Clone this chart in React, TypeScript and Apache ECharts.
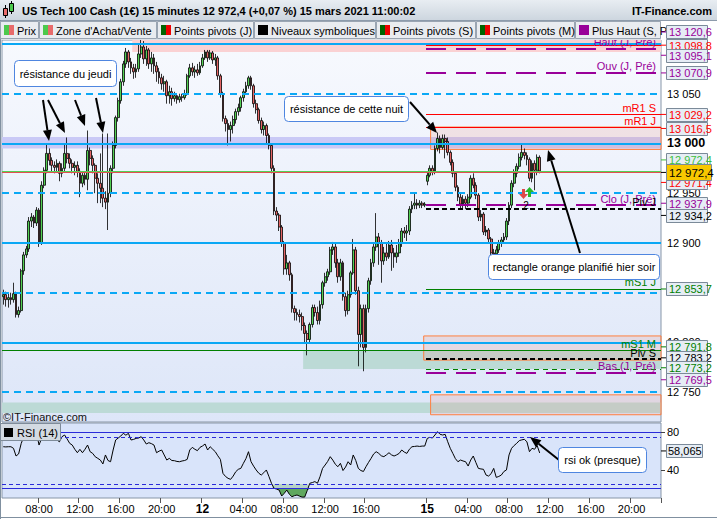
import React, { useEffect, useRef } from 'react';
import * as echarts from 'echarts';

const FONT = 'Liberation Sans, Arial, Helvetica, sans-serif';

// ---------- time axis ----------
const sessions = [
  { day: '11', from: '04:30', to: '24:00' },
  { day: '12', from: '00:00', to: '22:00' },
  { day: '15', from: '00:00', to: '23:00' },
];
const toMin = (t: string) => { const [h, m] = t.split(':').map(Number); return h * 60 + m; };
const categories: string[] = [];
sessions.forEach((s) => {
  for (let m = toMin(s.from); m < toMin(s.to); m += 15) {
    categories.push(`${s.day} ${String(Math.floor(m / 60)).padStart(2, '0')}:${String(m % 60).padStart(2, '0')}`);
  }
});

const xTickKeys = ['11 08:00', '11 12:00', '11 16:00', '11 20:00', '12 00:00', '12 04:00', '12 08:00', '12 12:00', '12 16:00', '15 00:00', '15 04:00', '15 08:00', '15 12:00', '15 16:00', '15 20:00'];
const xTickLabels = ['08:00', '12:00', '16:00', '20:00', '12', '04:00', '08:00', '12:00', '16:00', '15', '04:00', '08:00', '12:00', '16:00', '20:00'];
const xTickBold = ['12', '15'];

// ---------- price (open, close, low, high), 15 min ----------
const ohlc: number[][] = [
  [12846, 12848, 12838, 12853], [12848, 12843, 12836, 12851], [12843, 12845, 12835, 12849], [12845, 12843, 12838, 12850],
  [12843, 12849, 12840, 12860], [12849, 12828, 12825, 12851], [12828, 12832, 12825, 12836], [12832, 12872, 12830, 12874],
  [12872, 12888, 12868, 12891], [12888, 12894, 12885, 12897], [12894, 12922, 12891, 12926], [12922, 12926, 12916, 12930],
  [12926, 12920, 12915, 12928], [12920, 12933, 12917, 12936], [12933, 12900, 12896, 12935], [12900, 12958, 12898, 12962],
  [12958, 12973, 12955, 12976], [12973, 12990, 12970, 13000], [12990, 12983, 12978, 12995], [12983, 12978, 12972, 12986],
  [12978, 12976, 12970, 12982], [12976, 12980, 12972, 12984], [12980, 12970, 12962, 12982], [12970, 12975, 12966, 12980],
  [12975, 12990, 12972, 13000], [12990, 12985, 12980, 13006], [12985, 12980, 12975, 12990], [12980, 12976, 12970, 12984],
  [12976, 12978, 12968, 12982], [12978, 12972, 12966, 12982], [12972, 12960, 12946, 12975], [12960, 12968, 12956, 12972],
  [12968, 12964, 12958, 12972], [12964, 12993, 12953, 13013], [12993, 12985, 12978, 12996], [12985, 12978, 12970, 12988],
  [12978, 12965, 12950, 12980], [12965, 12960, 12940, 12970], [12960, 12955, 12940, 12990], [12955, 12945, 12936, 13010],
  [12945, 12941, 12934, 12952], [12941, 12950, 12913, 13010], [12950, 12975, 12946, 12978], [12975, 12998, 12970, 13002],
  [12998, 13026, 12995, 13028], [13026, 13043, 13022, 13046], [13043, 13062, 13040, 13065], [13062, 13080, 13058, 13083],
  [13080, 13092, 13076, 13096], [13092, 13082, 13076, 13094], [13082, 13076, 13070, 13086], [13076, 13072, 13065, 13080],
  [13072, 13075, 13066, 13080], [13075, 13090, 13072, 13100], [13090, 13097, 13086, 13106], [13097, 13085, 13080, 13103],
  [13085, 13094, 13078, 13098], [13094, 13080, 13075, 13096], [13080, 13086, 13072, 13092], [13086, 13078, 13070, 13090],
  [13078, 13072, 13062, 13082], [13072, 13066, 13060, 13076], [13066, 13060, 13054, 13070], [13060, 13062, 13052, 13068],
  [13062, 13048, 13040, 13064], [13048, 13052, 13040, 13058], [13052, 13045, 13038, 13056], [13045, 13048, 13042, 13052],
  [13048, 13044, 13040, 13050], [13044, 13047, 13041, 13050], [13047, 13046, 13042, 13050], [13046, 13050, 13044, 13054],
  [13050, 13068, 13048, 13070], [13068, 13076, 13066, 13080], [13076, 13072, 13068, 13081], [13072, 13074, 13066, 13078],
  [13074, 13071, 13068, 13080], [13071, 13078, 13069, 13082], [13078, 13086, 13076, 13090], [13086, 13092, 13084, 13094],
  [13092, 13086, 13082, 13094], [13086, 13091, 13084, 13094], [13091, 13084, 13080, 13093], [13084, 13086, 13078, 13090],
  [13086, 13068, 13064, 13088], [13068, 13050, 13046, 13070], [13050, 13025, 13022, 13052], [13025, 13020, 13012, 13028],
  [13020, 13014, 12998, 13024], [13014, 13018, 13002, 13022], [13018, 13024, 13010, 13028], [13024, 13032, 13020, 13035],
  [13032, 13036, 13028, 13040], [13036, 13046, 13032, 13048], [13046, 13052, 13042, 13055], [13052, 13058, 13049, 13062],
  [13058, 13066, 13055, 13068], [13066, 13058, 13054, 13068], [13058, 13040, 13036, 13060], [13040, 13034, 13030, 13044],
  [13034, 13023, 13020, 13036], [13023, 13014, 13010, 13026], [13014, 13018, 13008, 13022], [13018, 13008, 13000, 13020],
  [13008, 12998, 12994, 13010], [12998, 12975, 12970, 13000], [12975, 12932, 12928, 12978], [12932, 12928, 12922, 12936],
  [12928, 12916, 12912, 12930], [12916, 12900, 12896, 12918], [12900, 12874, 12868, 12902], [12874, 12880, 12868, 12888],
  [12880, 12868, 12862, 12882], [12868, 12834, 12830, 12870], [12834, 12830, 12822, 12837], [12830, 12828, 12822, 12834],
  [12828, 12826, 12820, 12833], [12826, 12817, 12812, 12830], [12817, 12809, 12800, 12820], [12809, 12803, 12787, 12812],
  [12803, 12818, 12800, 12820], [12818, 12835, 12815, 12838], [12835, 12830, 12826, 12838], [12830, 12822, 12818, 12836],
  [12822, 12838, 12818, 12842], [12838, 12860, 12834, 12862], [12860, 12866, 12856, 12870], [12866, 12871, 12862, 12874],
  [12871, 12893, 12868, 12896], [12893, 12896, 12888, 12901], [12896, 12880, 12875, 12900], [12880, 12866, 12860, 12884],
  [12866, 12880, 12862, 12884], [12880, 12846, 12842, 12882], [12846, 12832, 12826, 12850], [12832, 12848, 12828, 12852],
  [12848, 12870, 12845, 12872], [12870, 12893, 12868, 12904], [12893, 12852, 12848, 12896], [12852, 12808, 12776, 12856],
  [12808, 12834, 12795, 12838], [12834, 12795, 12771, 12838], [12795, 12834, 12790, 12838], [12834, 12862, 12830, 12865],
  [12862, 12880, 12858, 12884], [12880, 12896, 12876, 12900], [12896, 12906, 12892, 12930], [12906, 12900, 12878, 12910],
  [12900, 12882, 12860, 12903], [12882, 12890, 12878, 12896], [12890, 12886, 12882, 12900], [12886, 12898, 12884, 12902],
  [12898, 12890, 12872, 12903], [12890, 12886, 12875, 12895], [12886, 12890, 12880, 12898], [12890, 12900, 12886, 12904],
  [12900, 12912, 12896, 12915], [12912, 12910, 12905, 12916], [12910, 12912, 12902, 12918], [12912, 12934, 12908, 12937],
  [12934, 12938, 12930, 12942], [12938, 12940, 12934, 12950], [12940, 12938, 12934, 12944], [12938, 12940, 12935, 12943],
  [12940, 12938, 12935, 12942], [12938, 12939, 12936, 12941],
  [12962, 12968, 12958, 12972], [12968, 12975, 12966, 12978], [12975, 12971, 12968, 12978], [12971, 12995, 12969, 12998],
  [12995, 13005, 12992, 13011], [13005, 12996, 12990, 13008], [12996, 13005, 12994, 13009], [13005, 13002, 12985, 13009],
  [13002, 12991, 12988, 13006], [12991, 12981, 12978, 12993], [12981, 12970, 12966, 12984], [12970, 12956, 12952, 12972],
  [12956, 12946, 12942, 12958], [12946, 12939, 12935, 12950], [12939, 12944, 12934, 12948], [12944, 12940, 12934, 12947],
  [12940, 12946, 12936, 12949], [12946, 12965, 12944, 12968], [12965, 12958, 12955, 12970], [12958, 12948, 12944, 12961],
  [12948, 12926, 12922, 12950], [12926, 12929, 12922, 12933], [12929, 12911, 12908, 12931], [12911, 12913, 12907, 12917],
  [12913, 12904, 12900, 12915], [12904, 12890, 12886, 12906], [12890, 12889, 12878, 12894], [12889, 12893, 12882, 12897],
  [12893, 12900, 12890, 12903], [12900, 12903, 12896, 12906], [12903, 12906, 12900, 12910], [12906, 12922, 12903, 12925],
  [12922, 12938, 12918, 12941], [12938, 12960, 12935, 12963], [12960, 12970, 12956, 12974], [12970, 12977, 12966, 12980],
  [12977, 12986, 12974, 12990], [12986, 12991, 12983, 13000], [12991, 12988, 12984, 12995], [12988, 12984, 12978, 12991],
  [12984, 12965, 12962, 12986], [12965, 12980, 12961, 12983], [12980, 12973, 12953, 12983], [12973, 12986, 12968, 12989],
  [12986, 12972.4, 12970, 12988],
];

// ---------- RSI (14) ----------
const rsi: number[] = [
  64.7, 64.5, 64.7, 64.7, 63, 54.8, 57, 68, 75.4, 79, 80.8, 80.5, 79, 79.5, 66.5, 73.6, 79, 80.8, 79, 76,
  74, 71.9, 70, 75.4, 77.2, 73, 68.3, 66.5, 62, 58.3, 61.9, 58.3, 62, 66.5, 59.4, 57.6, 54, 52.3, 50.5, 46.3,
  55.9, 50, 48.7, 61.2, 71.9, 74, 76.1, 79, 77, 79, 71.9, 72.5, 73.6, 74, 75.4, 71.9, 67.6, 69, 68, 66.5,
  58.3, 60, 61.2, 55.9, 50.5, 52.3, 50, 49.8, 49, 48.7, 49.5, 50, 51.2, 61.2, 64, 62, 60.5, 64, 65.5, 67.6,
  61.2, 64.7, 62, 59.4, 55, 51.2, 36.3, 33, 31, 29.9, 33.4, 38, 40.6, 41.6, 47, 52, 59.4, 48.7, 44, 39.9,
  36.5, 34.5, 37, 39.9, 33, 25.7, 20.4, 19.5, 18.5, 12.1, 15, 18.5, 14, 11.4, 12.5, 13.2, 12, 11, 11, 18,
  25.7, 26.5, 27.5, 25.7, 32.7, 41.6, 45.2, 49, 54.1, 50.5, 46, 43.4, 47, 39.3, 43, 48.7, 45.2, 55.9, 50, 41.6,
  39.3, 38.3, 43.4, 48, 52.3, 57, 59.4, 57.6, 55, 54.1, 56, 58.3, 56, 54.8, 56, 57.6, 61.2, 59, 57.6, 62,
  64.7, 65, 65.4, 65, 65.4, 65.4, 73.6, 74.7, 74, 77.2, 80.8, 78, 77.2, 77.9, 70, 63, 57.6, 52, 48.7, 50.5,
  49.5, 48.7, 44.1, 50.5, 54.8, 48, 41.6, 41, 40.6, 34.5, 33.4, 36, 41.6, 32, 33, 34.5, 38.3, 39.9, 55.9, 63,
  66, 68.3, 71.2, 72, 72.6, 70, 59.4, 63, 62, 66, 58.065,
];
const rsiLevels = [80, 75, 25, 20];
const rsiTickLabels = [40, 80];

// ---------- levels ----------
const roundSolid = [13100, 13000, 12900, 12800];
const roundDashed = [13050, 12950, 12850, 12750];
const yTickValues = [12750, 12800, 12850, 12900, 12950, 13000, 13050, 13100];
const yLabelValues = [12750, 12800, 12900, 12950, 13000, 13050];
const fullLevels = [12972.4, 12971.4, 12791.8];
const fullLevelNames = ['', '', 'mS1 M'];
const pivotStart = 166; // Monday 00:00
const pivotLevels = [13098.8, 13095.1, 13070.9, 13029.2, 13016.5, 12937.9, 12934.2, 12853.7, 12783.2, 12773.2, 12769.5];
const pivotNames = ['', 'Haut (J, Pré)', 'Ouv (J, Pré)', 'mR1 S', 'mR1 J', 'Clo (J, Pré)', 'Piv J', 'mS1 J', 'Piv S', '', 'Bas (J, Pré)'];

// zones [from, to, low, high]
const bandZones = [[51, 258, 13092, 13104], [0, 258, 12995, 13006.5], [117.9, 258, 12773.2, 12791.8], [0, 258, 12729, 12739.6]];
const plannedRects = [[167.8, 258, 12994, 13016.5], [165.1, 258, 12782.2, 12806.5], [167.8, 258, 12727.3, 12747.3]];

const lastPrice = 12972.4;
const lastRsi = 58.065;
const axisBoxValues = [13120.6, 13098.8, 13095.1, 13070.9, 13029.2, 13016.5, 12972.4, 12971.4, 12937.9, 12934.2, 12853.7, 12791.8, 12783.2, 12773.2, 12769.5];

const title = 'US Tech 100 Cash (1€) 15 minutes 12 972,4 (+0,07 %) 15 mars 2021 11:00:02';
const legendLabels = ['Prix', "Zone d'Achat/Vente", 'Points pivots (J)', 'Niveaux symboliques', 'Points pivots (S)', 'Points pivots (M)', 'Plus Haut (S, P'];
const notes = ['résistance du jeudi', 'résistance de cette nuit', 'rectangle orange planifié hier soir', 'rsi ok (presque)'];

// ---------- styles ----------
const PURPLE = '#990099';
const RED = '#ff0000';
const GREEN = '#008000';
const LGREEN = '#3cc03c';
const BLUE = '#0aa8f5';
const levelStyle: Record<string, any> = {
  'Haut (J, Pré)': { c: PURPLE, w: 2, t: [20, 10] }, 'Ouv (J, Pré)': { c: PURPLE, w: 2, t: [20, 10] },
  'Clo (J, Pré)': { c: PURPLE, w: 2, t: [20, 10] }, 'Bas (J, Pré)': { c: PURPLE, w: 2, t: [20, 10] },
  'mR1 S': { c: RED, w: 1, t: 'solid' }, 'mR1 J': { c: RED, w: 1, t: 'solid' },
  'Piv J': { c: '#000', w: 2, t: [5, 3] }, 'Piv S': { c: '#000', w: 2, t: [5, 3] },
  'mS1 J': { c: GREEN, w: 1, t: 'solid' }, 'mS1 M': { c: GREEN, w: 1, t: 'solid' },
};
const unnamedStyles = [{ c: RED, w: 1, t: 'solid' }, { c: GREEN, w: 1, t: [5, 4] }];
const boxColors = [PURPLE, RED, PURPLE, PURPLE, RED, RED, LGREEN, RED, PURPLE, '#000', GREEN, GREEN, '#000', GREEN, PURPLE];
const boxShift = [8.5, 0, 6.4, 0, 0, 1.4, -11, 10.5, -2, 6.5, 0, -3.7, -1.3, -1.3, 7];
const legendEdges = [0, 39, 157, 254, 376, 476, 575, 661];
const legendIcons = [['#4cc94c', '#e86b6b'], ['#4cc94c', '#e86b6b'], ['#006400', '#ee0000'], ['#000000'], ['#006400', '#ee0000'], ['#006400', '#ee0000'], ['#990099']];
const noteBoxes = [[14, 60, 102, 26], [284, 96, 124, 25], [488, 254, 171, 25], [558, 447, 88, 25]];
const arrows = [[43, 100, 49, 141], [48, 100, 65, 133], [75, 100, 85, 126], [96, 98, 103, 133], [410, 102, 437, 133], [580, 253, 548, 150], [559, 460, 530, 437]];

function fmtNum(v: number, dec: number) {
  const [i, d] = v.toFixed(dec).split('.');
  const ii = i.replace(/\B(?=(\d{3})+(?!\d))/g, ' ');
  return d ? `${ii},${d}` : ii;
}

function buildOption() {
  const tickSet = new Set(xTickKeys);
  const tickFn = (_i: number, v: string) => tickSet.has(v);
  const labelFn = (v: string) => {
    const k = xTickKeys.indexOf(v);
    if (k < 0) return '';
    const t = xTickLabels[k];
    return xTickBold.includes(t) ? `{b|${t}}` : t;
  };

  const lineItems: any[] = [];
  roundSolid.forEach((v) => lineItems.push({ yAxis: v, lineStyle: { color: BLUE, width: 2, type: 'solid' }, label: { show: false } }));
  roundDashed.forEach((v) => lineItems.push({ yAxis: v, lineStyle: { color: BLUE, width: 2, type: [7, 5] }, label: { show: false } }));
  const lab = (name: string, color: string) => name
    ? { show: true, position: 'insideEndTop', formatter: name, color, fontSize: 11, fontFamily: FONT, distance: [5, 1] }
    : { show: false };
  fullLevels.forEach((v, k) => {
    const name = fullLevelNames[k];
    const st = name ? levelStyle[name] : { c: k === 0 ? '#55d055' : '#e05050', w: 1, t: 'solid' };
    lineItems.push({ yAxis: v, lineStyle: { color: st.c, width: st.w, type: st.t }, label: lab(name, st.c) });
  });
  let un = 0;
  pivotLevels.forEach((v, k) => {
    const name = pivotNames[k];
    const st = name ? levelStyle[name] : unnamedStyles[un++];
    lineItems.push([
      { coord: [pivotStart, v], lineStyle: { color: st.c, width: st.w, type: st.t }, label: lab(name, st.c) },
      { coord: [258, v] },
    ]);
  });

  const areaItems: any[] = [];
  const bandColors = ['#fad1d3', '#c9c9f6', '#bcdad6', '#bcdad6'];
  bandZones.forEach((z, k) => areaItems.push([{ coord: [z[0], z[2]], itemStyle: { color: bandColors[k] } }, { coord: [z[1], z[3]] }]));
  plannedRects.forEach((z) => areaItems.push([
    { coord: [z[0], z[2]], itemStyle: { color: 'rgba(235,150,135,0.2)', borderColor: '#ff7f3f', borderWidth: 1 } },
    { coord: [z[1], z[3]] },
  ]));

  const base = rsi.map((v) => Math.min(v, 20));
  const dark = rsi.map((v) => (v < 20 ? 20 - v : 0));
  const light = rsi.map((v) => (v < 25 ? 5 : 0));
  const stackCommon = { type: 'line', xAxisIndex: 2, yAxisIndex: 1, stack: 'os', symbol: 'none', showSymbol: false, lineStyle: { width: 0, opacity: 0 }, silent: true, z: 1 };

  return {
    animation: false,
    backgroundColor: '#ffffff',
    textStyle: { fontFamily: FONT },
    grid: [
      {
        left: 2, top: 40, width: 659, height: 382, show: true,
        backgroundColor: new echarts.graphic.LinearGradient(0, 0, 0, 1, [{ offset: 0, color: '#f7f9fe' }, { offset: 1, color: '#dde6f8' }]),
        borderColor: '#8796a8', borderWidth: 1,
      },
      { left: 2, top: 423, width: 659, height: 75, show: true, backgroundColor: '#d9e4fa', borderColor: '#8796a8', borderWidth: 1 },
    ],
    xAxis: [
      { type: 'category', gridIndex: 0, data: categories, boundaryGap: true, show: false },
      { type: 'value', gridIndex: 0, min: 0, max: 258, show: false },
      {
        type: 'category', gridIndex: 1, data: categories, boundaryGap: true,
        axisLine: { show: false },
        axisTick: { show: true, interval: tickFn, length: 5, lineStyle: { color: '#555' } },
        axisLabel: { interval: tickFn, formatter: labelFn, fontSize: 11, color: '#000', margin: 5, rich: { b: { fontSize: 12, fontWeight: 'bold', color: '#000' } } },
        splitLine: { show: false },
      },
    ],
    yAxis: [
      {
        type: 'value', gridIndex: 0, position: 'right', min: 12720, max: 13104,
        splitLine: { show: false }, axisLine: { show: false },
        axisTick: { show: true, length: 4, customValues: yTickValues, lineStyle: { color: '#444' } },
        axisLabel: {
          customValues: yLabelValues, margin: 6, fontSize: 11, color: '#000',
          formatter: (v: number) => (v === 13000 ? '{b|13 000}' : yLabelValues.includes(v) ? fmtNum(v, 0) : ''),
          rich: { b: { fontSize: 12.5, fontWeight: 'bold', color: '#000' } },
        },
      },
      {
        type: 'value', gridIndex: 1, position: 'right', min: 10, max: 90,
        splitLine: { show: false }, axisLine: { show: false },
        axisTick: { show: true, length: 4, customValues: rsiTickLabels, lineStyle: { color: '#444' } },
        axisLabel: { customValues: rsiTickLabels, margin: 6, fontSize: 11, color: '#000', formatter: (v: number) => (rsiTickLabels.includes(v) ? String(v) : '') },
      },
    ],
    series: [
      {
        name: 'zones', type: 'line', xAxisIndex: 1, yAxisIndex: 0, data: [[0, 12720]], symbol: 'none', showSymbol: false,
        lineStyle: { opacity: 0 }, silent: true, z: 1,
        markArea: { silent: true, label: { show: false }, data: areaItems },
      },
      {
        name: 'Prix', type: 'candlestick', xAxisIndex: 0, yAxisIndex: 0, data: ohlc, barWidth: 2.3, z: 2,
        itemStyle: { color: '#52d052', color0: '#e46464', borderColor: '#000', borderColor0: '#000', borderWidth: 0.8 },
      },
      {
        name: 'levels', type: 'line', xAxisIndex: 1, yAxisIndex: 0, data: [[0, 12720]], symbol: 'none', showSymbol: false,
        lineStyle: { opacity: 0 }, silent: true, z: 3,
        markLine: { silent: true, symbol: ['none', 'none'], label: { show: false }, data: lineItems },
      },
      { ...stackCommon, name: 'b', data: base },
      { ...stackCommon, name: 'd', data: dark, areaStyle: { color: '#5fa85f', opacity: 1 } },
      { ...stackCommon, name: 'l', data: light, areaStyle: { color: '#b6d2c6', opacity: 1 } },
      {
        name: 'RSI', type: 'line', xAxisIndex: 2, yAxisIndex: 1, data: rsi, symbol: 'none', showSymbol: false,
        lineStyle: { color: '#000', width: 1 }, z: 3, silent: true,
        markLine: {
          silent: true, symbol: ['none', 'none'], label: { show: false },
          data: rsiLevels.map((v) => ({ yAxis: v, lineStyle: { color: '#2b2bd9', width: 1, type: v === 80 || v === 20 ? 'solid' : [4, 3] } })),
        },
      },
    ],
  };
}

function buildGraphic(chart: any) {
  const g: any[] = [];
  const font = (s: number, w = 'normal') => `${w} ${s}px ${FONT}`;
  const Z = 100;
  // header
  g.push({ type: 'rect', z: Z, shape: { x: 0, y: 0, width: 717, height: 20 }, style: { fill: new echarts.graphic.LinearGradient(0, 0, 0, 1, [{ offset: 0, color: '#e8edf2' }, { offset: 1, color: '#cdd6df' }]) } });
  g.push({ type: 'line', z: Z, shape: { x1: 0, y1: 20.5, x2: 717, y2: 20.5 }, style: { stroke: '#8d9bab', lineWidth: 1 } });
  g.push({ type: 'line', z: Z + 1, shape: { x1: 5.5, y1: 5, x2: 5.5, y2: 18 }, style: { stroke: '#000', lineWidth: 1 } });
  g.push({ type: 'rect', z: Z + 2, shape: { x: 3.5, y: 8.5, width: 4, height: 7 }, style: { fill: '#e86b6b', stroke: '#000', lineWidth: 1 } });
  g.push({ type: 'line', z: Z + 1, shape: { x1: 11.5, y1: 1, x2: 11.5, y2: 14 }, style: { stroke: '#000', lineWidth: 1 } });
  g.push({ type: 'rect', z: Z + 2, shape: { x: 9.5, y: 3.5, width: 4, height: 8 }, style: { fill: '#4cc94c', stroke: '#000', lineWidth: 1 } });
  g.push({ type: 'text', z: Z + 1, x: 22, y: 11, style: { text: title, font: font(11, 'bold'), fill: '#000', verticalAlign: 'middle' } });
  g.push({ type: 'text', z: Z + 1, x: 712, y: 11, style: { text: 'IT-Finance.com', font: font(11, 'bold'), fill: '#000', align: 'right', verticalAlign: 'middle' } });
  // legend row
  g.push({ type: 'rect', z: Z, shape: { x: 0, y: 21, width: 661, height: 19 }, style: { fill: '#dde2e8' } });
  legendLabels.forEach((t, k) => {
    const x0 = legendEdges[k];
    const x1 = legendEdges[k + 1] - 1;
    g.push({ type: 'rect', z: Z + 1, shape: { x: x0 + 0.5, y: 21.5, width: x1 - x0, height: 17 }, style: { fill: '#e9ecf0', stroke: '#9aa5b2', lineWidth: 1 } });
    const ic = legendIcons[k];
    if (ic.length === 2) {
      g.push({ type: 'rect', z: Z + 2, shape: { x: x0 + 4, y: 25, width: 5, height: 10 }, style: { fill: ic[0] } });
      g.push({ type: 'rect', z: Z + 2, shape: { x: x0 + 9, y: 25, width: 5, height: 10 }, style: { fill: ic[1] } });
    } else {
      g.push({ type: 'rect', z: Z + 2, shape: { x: x0 + 4, y: 25, width: 10, height: 10 }, style: { fill: ic[0] } });
    }
    g.push({ type: 'text', z: Z + 2, x: x0 + 17, y: 30.5, style: { text: t, font: font(11), fill: '#000', verticalAlign: 'middle' } });
  });
  // frame lines
  g.push({ type: 'line', z: Z, shape: { x1: 0.5, y1: 20, x2: 0.5, y2: 519 }, style: { stroke: '#8090a0', lineWidth: 1 } });
  g.push({ type: 'line', z: Z, shape: { x1: 0, y1: 517.5, x2: 717, y2: 517.5 }, style: { stroke: '#8090a0', lineWidth: 1 } });
  // copyright + RSI legend
  g.push({ type: 'text', z: Z, x: 3, y: 416.5, style: { text: '©IT-Finance.com', font: font(11), fill: '#111', verticalAlign: 'middle' } });
  g.push({ type: 'rect', z: Z, shape: { x: 0.5, y: 423.5, width: 60, height: 17 }, style: { fill: '#d3dae2', stroke: '#7e8b99', lineWidth: 1 } });
  g.push({ type: 'rect', z: Z + 1, shape: { x: 4, y: 428, width: 9, height: 9 }, style: { fill: '#000' } });
  g.push({ type: 'text', z: Z + 1, x: 17, y: 432.5, style: { text: 'RSI (14)', font: font(11), fill: '#000', verticalAlign: 'middle' } });

  // annotations
  notes.forEach((t, k) => {
    const [x, y, w, h] = noteBoxes[k];
    g.push({ type: 'rect', z: Z + 5, shape: { x: x + 0.5, y: y + 0.5, width: w, height: h, r: 4 }, style: { fill: '#ffffff', stroke: '#4f86e0', lineWidth: 1 } });
    g.push({ type: 'text', z: Z + 6, x: x + w / 2 + 0.5, y: y + h / 2 + 0.5, style: { text: t, font: font(11), fill: '#000', align: 'center', verticalAlign: 'middle' } });
  });
  arrows.forEach(([x1, y1, x2, y2]) => {
    const dx = x2 - x1; const dy = y2 - y1; const L = Math.hypot(dx, dy);
    const ux = dx / L; const uy = dy / L; const head = 11; const w = 9;
    const bx = x2 - ux * head; const by = y2 - uy * head; const nx = -uy; const ny = ux;
    g.push({ type: 'line', z: Z + 4, shape: { x1, y1, x2: bx, y2: by }, style: { stroke: '#000', lineWidth: 2 } });
    g.push({ type: 'polygon', z: Z + 4, shape: { points: [[x2, y2], [bx + nx * w / 2, by + ny * w / 2], [bx - nx * w / 2, by - ny * w / 2]] }, style: { fill: '#000' } });
  });
  // small signal markers
  g.push({ type: 'polygon', z: Z + 3, shape: { points: [[522, 189], [525, 189], [525, 194], [528, 194], [523.5, 199], [519, 194], [522, 194]] }, style: { fill: '#e04848' } });
  g.push({ type: 'polygon', z: Z + 3, shape: { points: [[528, 197], [531, 197], [531, 192], [534, 192], [529.5, 187], [525, 192], [528, 192]] }, style: { fill: '#28b828' } });
  g.push({ type: 'text', z: Z + 3, x: 526, y: 205, style: { text: '2', font: font(10), fill: '#000', align: 'center', verticalAlign: 'middle' } });

  // price axis boxes
  axisBoxValues.forEach((v, k) => {
    const y = chart.convertToPixel({ yAxisIndex: 0 }, v) + boxShift[k];
    g.push({ type: 'line', z: Z + 10 + k, shape: { x1: 661, y1: y, x2: 666, y2: y }, style: { stroke: boxColors[k], lineWidth: 1 } });
    g.push({ type: 'rect', z: Z + 10 + k, shape: { x: 666.5, y: Math.round(y - 6.5) + 0.5, width: 41, height: 13 }, style: { fill: '#e6edf5', stroke: '#7b8a99', lineWidth: 1 } });
    g.push({ type: 'text', z: Z + 10 + k, x: 669, y: y + 0.5, style: { text: fmtNum(v, 1), font: font(11), fill: boxColors[k], verticalAlign: 'middle' } });
  });
  const yp = chart.convertToPixel({ yAxisIndex: 0 }, lastPrice) + 1.5;
  g.push({ type: 'line', z: Z + 40, shape: { x1: 661, y1: yp, x2: 666, y2: yp }, style: { stroke: '#000', lineWidth: 1 } });
  g.push({ type: 'rect', z: Z + 40, shape: { x: 666.5, y: Math.round(yp - 8) + 0.5, width: 45, height: 16 }, style: { fill: '#f8c800', stroke: '#7b8a99', lineWidth: 1 } });
  g.push({ type: 'text', z: Z + 41, x: 669, y: yp + 0.5, style: { text: fmtNum(lastPrice, 1), font: font(11.5), fill: '#000', verticalAlign: 'middle' } });
  const yr = chart.convertToPixel({ yAxisIndex: 1 }, lastRsi) - 2;
  g.push({ type: 'line', z: Z + 40, shape: { x1: 661, y1: yr, x2: 666, y2: yr }, style: { stroke: '#000', lineWidth: 1 } });
  g.push({ type: 'rect', z: Z + 40, shape: { x: 666.5, y: Math.round(yr - 6.5) + 0.5, width: 36, height: 13 }, style: { fill: '#e6edf5', stroke: '#7b8a99', lineWidth: 1 } });
  g.push({ type: 'text', z: Z + 41, x: 668, y: yr + 0.5, style: { text: lastRsi.toFixed(3).replace('.', ','), font: font(11), fill: '#000', verticalAlign: 'middle' } });
  return g;
}

export default function App() {
  const ref = useRef<HTMLDivElement>(null);
  useEffect(() => {
    const chart = echarts.init(ref.current as HTMLDivElement, undefined, { renderer: 'svg' });
    chart.setOption(buildOption() as any);
    chart.setOption({ graphic: buildGraphic(chart) } as any);
    return () => chart.dispose();
  }, []);
  return <div ref={ref} style={{ position: 'absolute', left: 0, top: 0, width: 717, height: 519 }} />;
}
